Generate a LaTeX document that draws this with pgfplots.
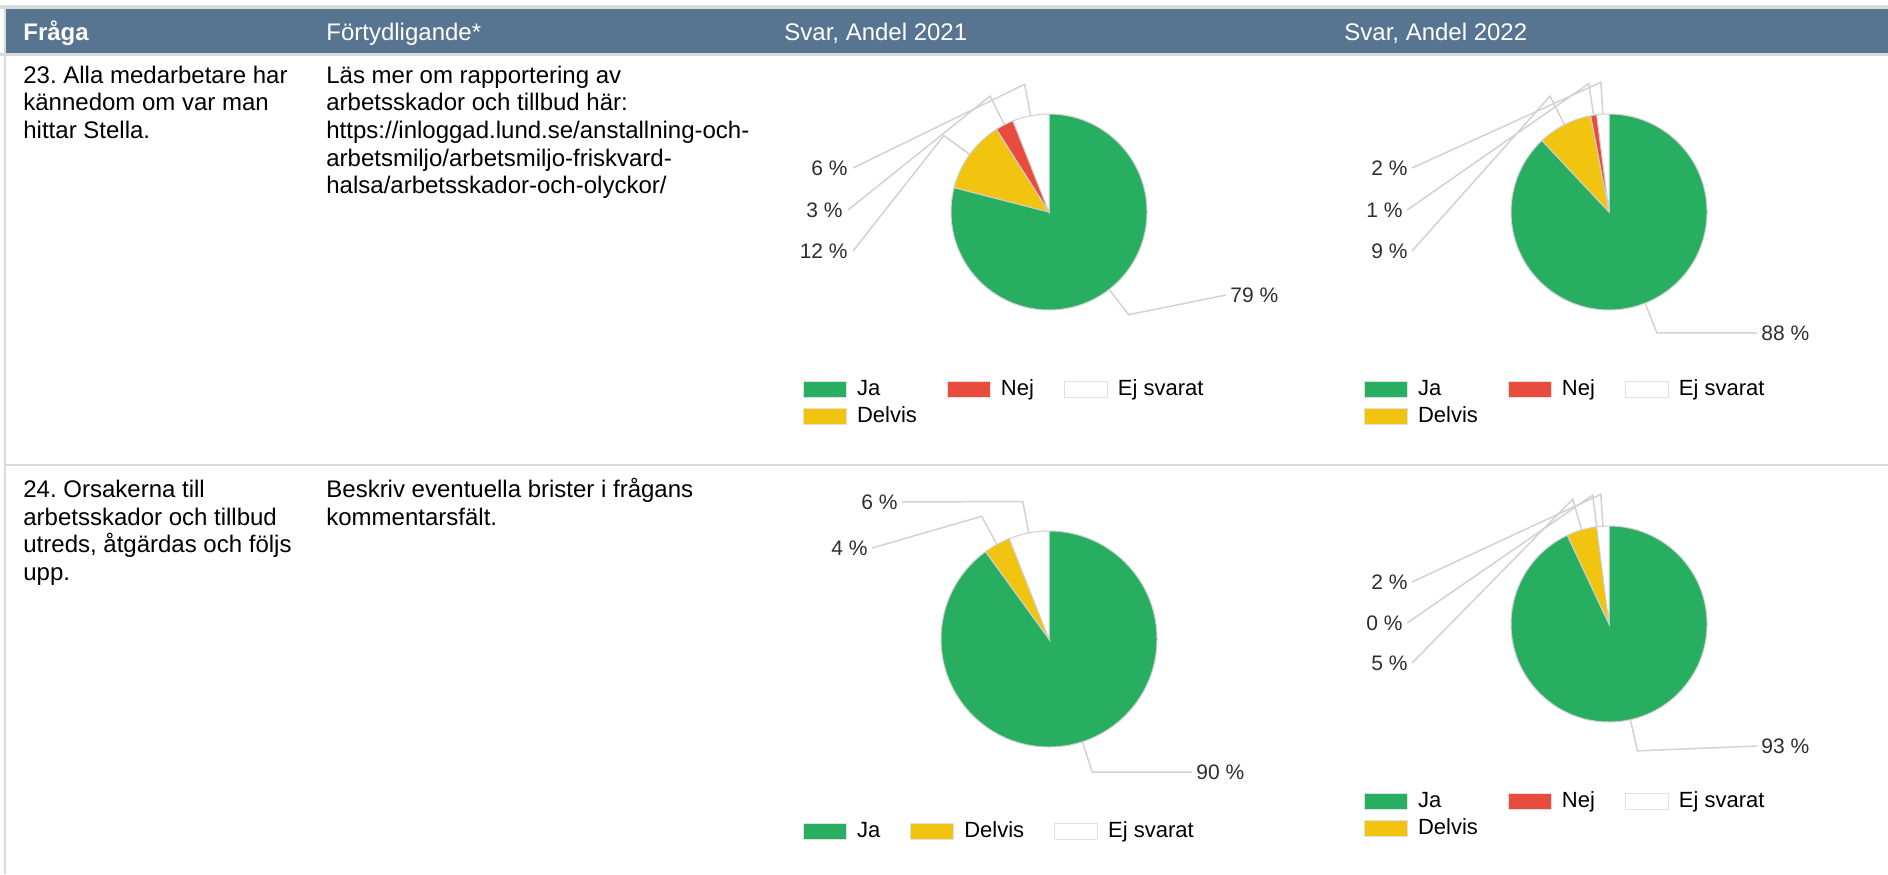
\documentclass[border=0pt]{standalone}
\usepackage{fontspec}
\setmainfont{Liberation Sans}
\usepackage{pgfplots}
\pgfplotsset{compat=1.18}
\frenchspacing
\definecolor{hdr}{HTML}{577590}
\definecolor{ja}{HTML}{27AE60}
\definecolor{delvis}{HTML}{F1C40F}
\definecolor{nej}{HTML}{E74C3C}
\definecolor{rule}{HTML}{DADADA}
\definecolor{lead}{HTML}{D2D2D2}
\definecolor{edge}{HTML}{CFCFCF}
\definecolor{lbl}{HTML}{2E2E2E}
\newcommand\bodyfont{\fontsize{12}{13.85}\selectfont}
\newcommand\lblfont{\fontsize{10.5}{12}\selectfont}
% slice: cx, cy, r (px), start %, value %, colour
\newcommand\pslice[6]{%
  \fill[#6, draw=edge, line width=0.5pt] (axis cs:#1,-#2) -- ++({90-3.6*#4}:{#3*0.5pt})
    arc[start angle={90-3.6*#4}, end angle={90-3.6*(#4+#5)}, radius={#3*0.5pt}] -- cycle;}
% leader: cx, cy, r (px), mid %, label x, label y
\newcommand\plead[6]{%
  \draw[lead, line width=0.75pt] (axis cs:#1,-#2) ++({90-3.6*#4}:{#3*0.5pt}) -- ++({90-3.6*#4}:16pt) -- (axis cs:#5,-#6);}
\newcommand\lblE[3]{\node[anchor=east, inner sep=0pt, font=\lblfont, text=lbl] at (axis cs:#1,-#2) {#3};}
\newcommand\lblW[3]{\node[anchor=west, inner sep=0pt, font=\lblfont, text=lbl] at (axis cs:#1,-#2) {#3};}
\pgfplotsset{
  swatch/.style={legend image code/.code={\draw[draw=black!12, fill=#1, line width=0.5pt] (0pt,-4pt) rectangle (21.5pt,4pt);}},
  pieax/.style={at={(0pt,-437pt)}, anchor=south west, width=944pt, height=437pt, scale only axis,
    xmin=0, xmax=1888, ymin=-874, ymax=0, hide axis, clip=false,
    legend columns=3, legend cell align=left,
    legend style={draw=none, fill=none, inner sep=0pt, outer sep=0pt, anchor=north west,
      font=\fontsize{11}{13}\selectfont, row sep=2.5pt,
      nodes={inner sep=0pt, text height=8.5pt, text depth=2.5pt},
      /tikz/every odd column/.append style={column sep=5pt},
      /tikz/every even column/.append style={column sep=15pt}}},
}
\begin{document}
\begin{tikzpicture}
\begin{scope}[x=0.5pt, y=-0.5pt]
\useasboundingbox (0,0) rectangle (1888,874);
\fill[white] (0,0) rectangle (1888,874);
\fill[rule] (0,5) rectangle (1888,9);
\fill[hdr] (6,9) rectangle (1888,53);
\fill[rule] (0,53) rectangle (1888,56);
\fill[rule] (4,5) rectangle (6,874);
\fill[rule] (6,464) rectangle (1888,466);
\node[anchor=base west, inner sep=0pt, text=white, font=\bodyfont\bfseries] at (23,40.5) {Fråga};
\node[anchor=base west, inner sep=0pt, text=white, font=\bodyfont] at (326,40.5) {Förtydligande*};
\node[anchor=base west, inner sep=0pt, text=white, font=\bodyfont] at (784,40.5) {Svar, Andel 2021};
\node[anchor=base west, inner sep=0pt, text=white, font=\bodyfont] at (1344,40.5) {Svar, Andel 2022};
\begin{scope}[every node/.style={anchor=base west, inner sep=0pt, font=\bodyfont}]
\node at (23,83) {23. Alla medarbetare har};
\node at (23,110.7) {kännedom om var man};
\node at (23,138.4) {hittar Stella.};
\node at (326,83) {Läs mer om rapportering av};
\node at (326,110.7) {arbetsskador och tillbud här:};
\node at (326,138.4) {https://inloggad.lund.se/anstallning-och-};
\node at (326,166.1) {arbetsmiljo/arbetsmiljo-friskvard-};
\node at (326,193.8) {halsa/arbetsskador-och-olyckor/};
\node at (23,497.5) {24. Orsakerna till};
\node at (23,525.2) {arbetsskador och tillbud};
\node at (23,552.9) {utreds, åtgärdas och följs};
\node at (23,580.6) {upp.};
\node at (326,497.5) {Beskriv eventuella brister i frågans};
\node at (326,525.2) {kommentarsfält.};
\end{scope}
\end{scope}

% Q23, 2021
\begin{axis}[pieax, legend style={at={(axis description cs:0.42532,0.56751)}}]
\addlegendimage{swatch=ja}\addlegendentry{Ja}
\addlegendimage{swatch=nej}\addlegendentry{Nej}
\addlegendimage{swatch=white}\addlegendentry{Ej svarat}
\addlegendimage{swatch=delvis}\addlegendentry{Delvis}
\plead{1049}{212}{98}{97}{853}{168}
\plead{1049}{212}{98}{92.5}{848}{210}
\plead{1049}{212}{98}{85}{853}{251}
\plead{1049}{212}{98}{39.5}{1226}{295}
\pslice{1049}{212}{98}{0}{79}{ja}
\pslice{1049}{212}{98}{79}{12}{delvis}
\pslice{1049}{212}{98}{91}{3}{nej}
\pslice{1049}{212}{98}{94}{6}{white}
\lblE{848}{168}{6 \%}
\lblE{843}{210}{3 \%}
\lblE{848}{251}{12 \%}
\lblW{1230}{295}{79 \%}
\end{axis}

% Q23, 2022
\begin{axis}[pieax, legend style={at={(axis description cs:0.72246,0.56751)}}]
\addlegendimage{swatch=ja}\addlegendentry{Ja}
\addlegendimage{swatch=nej}\addlegendentry{Nej}
\addlegendimage{swatch=white}\addlegendentry{Ej svarat}
\addlegendimage{swatch=delvis}\addlegendentry{Delvis}
\plead{1609}{212}{98}{99}{1412}{168}
\plead{1609}{212}{98}{97.5}{1407}{210}
\plead{1609}{212}{98}{92.5}{1412}{251}
\plead{1609}{212}{98}{44}{1757}{333}
\pslice{1609}{212}{98}{0}{88}{ja}
\pslice{1609}{212}{98}{88}{9}{delvis}
\pslice{1609}{212}{98}{97}{1}{nej}
\pslice{1609}{212}{98}{98}{2}{white}
\lblE{1408}{168}{2 \%}
\lblE{1403}{210}{1 \%}
\lblE{1408}{251}{9 \%}
\lblW{1761}{333}{88 \%}
\end{axis}

% Q24, 2021
\begin{axis}[pieax, legend style={at={(axis description cs:0.42532,0.06178)}}]
\addlegendimage{swatch=ja}\addlegendentry{Ja}
\addlegendimage{swatch=delvis}\addlegendentry{Delvis}
\addlegendimage{swatch=white}\addlegendentry{Ej svarat}
\plead{1049}{639}{108}{97}{902}{502}
\plead{1049}{639}{108}{92}{872}{548}
\plead{1049}{639}{108}{45}{1192}{772}
\pslice{1049}{639}{108}{0}{90}{ja}
\pslice{1049}{639}{108}{90}{4}{delvis}
\pslice{1049}{639}{108}{94}{6}{white}
\lblE{898}{502}{6 \%}
\lblE{868}{548}{4 \%}
\lblW{1196}{772}{90 \%}
\end{axis}

% Q24, 2022
\begin{axis}[pieax, legend style={at={(axis description cs:0.72246,0.09611)}}]
\addlegendimage{swatch=ja}\addlegendentry{Ja}
\addlegendimage{swatch=nej}\addlegendentry{Nej}
\addlegendimage{swatch=white}\addlegendentry{Ej svarat}
\addlegendimage{swatch=delvis}\addlegendentry{Delvis}
\plead{1609}{624}{98}{99}{1412}{582}
\plead{1609}{624}{98}{98}{1407}{623}
\plead{1609}{624}{98}{95.5}{1412}{663}
\plead{1609}{624}{98}{46.5}{1757}{746}
\pslice{1609}{624}{98}{0}{93}{ja}
\pslice{1609}{624}{98}{93}{5}{delvis}
\pslice{1609}{624}{98}{98}{2}{white}
\lblE{1408}{582}{2 \%}
\lblE{1403}{623}{0 \%}
\lblE{1408}{663}{5 \%}
\lblW{1761}{746}{93 \%}
\end{axis}
\end{tikzpicture}
\end{document}
